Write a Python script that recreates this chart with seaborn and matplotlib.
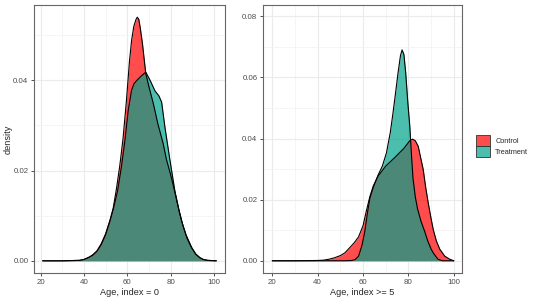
import numpy as np
import pandas as pd
import matplotlib
matplotlib.use('Agg')
import matplotlib.pyplot as plt
import seaborn as sns
from matplotlib.patches import Patch
from matplotlib.ticker import MultipleLocator
from matplotlib.colors import to_rgba

groups = ['Control', 'Treatment']
group_colors = {'Control': '#FF0000', 'Treatment': '#00A38A'}

# ---- density curves: index = 0 ----
age0_control = [21, 30, 38, 40, 42, 44, 46, 48, 50, 52, 53.5, 55, 56.5, 58, 59.5, 61, 62, 63,
                64, 64.6, 65.3, 66, 67, 68.5, 70, 72, 74, 76.5, 78, 80, 82, 83.5, 85, 87,
                89.6, 91.5, 93.4, 95, 97, 101]
dens0_control = [0, 0, 0.0001, 0.0003, 0.0007, 0.0013, 0.0022, 0.0038, 0.006, 0.009, 0.0117,
                 0.016, 0.021, 0.027, 0.035, 0.0443, 0.049, 0.052, 0.0535, 0.054, 0.0535,
                 0.0515, 0.048, 0.0415, 0.0385, 0.0348, 0.0305, 0.026, 0.0225, 0.019, 0.015,
                 0.0118, 0.0088, 0.0058, 0.003, 0.0015, 0.0007, 0.0003, 0.0001, 0]
age0_treat = [21, 30, 38, 40, 42, 44, 46, 48, 50, 52, 53.5, 55.5, 57.3, 58.9, 60.4, 61.9, 63,
              64.2, 66.5, 68.5, 70.5, 72.7, 74.5, 75.8, 77.3, 79.6, 81.9, 83.8, 85.7, 87.5,
              89.6, 91.5, 93.4, 95, 97, 101]
dens0_treat = [0, 0, 0.0001, 0.0003, 0.0007, 0.0012, 0.0021, 0.0036, 0.0058, 0.0088, 0.0114,
               0.0155, 0.0209, 0.0267, 0.0333, 0.0377, 0.0392, 0.0399, 0.041, 0.0418, 0.040,
               0.0377, 0.0366, 0.0352, 0.0297, 0.0224, 0.0155, 0.0112, 0.0077, 0.005,
               0.0029, 0.0015, 0.0007, 0.0003, 0.0001, 0]

# ---- index >= 5 ----
age5_control = [20, 30, 40, 42.5, 45, 47.5, 50, 52, 54, 56, 58, 60, 61.5, 63, 64.5, 66.6, 70,
                74, 78, 80.5, 81.8, 83, 84.3, 85.3, 86.5, 87.6, 88.7, 89.8, 90.9, 92.3,
                93.8, 96, 98.2, 100]
dens5_control = [0, 0, 0.0001, 0.0002, 0.0005, 0.001, 0.0017, 0.0026, 0.0042, 0.0058,
                 0.0078, 0.0115, 0.0165, 0.021, 0.0245, 0.0277, 0.031, 0.0338, 0.0368, 0.0392,
                 0.0398, 0.0393, 0.0375, 0.034, 0.0299, 0.024, 0.019, 0.0145, 0.0103, 0.0065,
                 0.0038, 0.0015, 0.0005, 0]
age5_treat = [20, 40, 52, 55, 56.5, 58, 59.5, 60.7, 62, 63, 64.5, 66.6, 68.5, 70.3, 72,
              73.2, 74.5, 75.4, 76.5, 77.2, 78, 78.8, 79.7, 80.6, 81.3, 82, 83, 84, 85.5,
              87.2, 88.5, 90, 91, 93, 95, 100]
dens5_treat = [0, 0, 0, 0.0001, 0.0004, 0.0015, 0.005, 0.0093, 0.016, 0.0205, 0.024, 0.028,
               0.031, 0.0353, 0.042, 0.0484, 0.056, 0.0614, 0.0672, 0.069, 0.0675, 0.0614,
               0.052, 0.044, 0.035, 0.027, 0.021, 0.017, 0.013, 0.0095, 0.0065, 0.0038,
               0.0025, 0.0005, 0, 0]


def make_df(age_c, dens_c, age_t, dens_t):
    a = pd.DataFrame({'age': age_c, 'density': dens_c, 'group': 'Control'})
    b = pd.DataFrame({'age': age_t, 'density': dens_t, 'group': 'Treatment'})
    return pd.concat([a, b], ignore_index=True)


df0 = make_df(age0_control, dens0_control, age0_treat, dens0_treat)
df5 = make_df(age5_control, dens5_control, age5_treat, dens5_treat)

sns.set_theme(style='white')
plt.rcParams['font.family'] = ['Liberation Sans', 'DejaVu Sans']

fig = plt.figure(figsize=(5.4, 3.0), dpi=100)
W, H = 540, 300
ax1 = fig.add_axes([34 / W, 1 - 273 / H, (225 - 34) / W, (273 - 5) / H])
ax2 = fig.add_axes([263 / W, 1 - 273 / H, (462 - 263) / W, (273 - 5) / H])


def draw_panel(ax, df, xlabel, xlim, ylim, ymajor):
    ax.set_axisbelow(True)
    for g in groups:
        sub = df[df['group'] == g]
        ax.fill_between(sub['age'], 0, sub['density'], color=group_colors[g],
                        alpha=0.7, linewidth=0)
        sns.lineplot(data=sub, x='age', y='density', color='black', lw=0.8,
                     ax=ax, legend=False, sort=False)
    ax.set_xlim(*xlim)
    ax.set_ylim(*ylim)
    ax.xaxis.set_major_locator(MultipleLocator(20))
    ax.xaxis.set_minor_locator(MultipleLocator(10))
    ax.yaxis.set_major_locator(MultipleLocator(ymajor))
    ax.yaxis.set_minor_locator(MultipleLocator(ymajor / 2))
    ax.grid(which='major', color='#EBEBEB', lw=0.8)
    ax.grid(which='minor', color='#F2F2F2', lw=0.5)
    ax.tick_params(which='major', length=2.5, width=0.6, color='#333333',
                   labelsize=5.7, labelcolor='#4D4D4D', pad=1.5, bottom=True, left=True)
    ax.tick_params(which='minor', length=0)
    ax.yaxis.set_major_formatter(plt.FuncFormatter(lambda v, p: f'{v:.2f}'))
    for s in ax.spines.values():
        s.set_color('#666666')
        s.set_linewidth(0.8)
    ax.set_xlabel(xlabel, fontsize=6.6, labelpad=2)
    ax.set_ylabel('')


draw_panel(ax1, df0, 'Age, index = 0', (17, 105), (-0.0027, 0.0567), 0.02)
ax1.set_ylabel('density', fontsize=6.6)
ax1.yaxis.set_label_coords(-0.11, 0.5)
draw_panel(ax2, df5, 'Age, index >= 5', (15.9, 103.6), (-0.004, 0.0837), 0.02)

handles = [Patch(facecolor=to_rgba(group_colors[g], 0.7), edgecolor='#333333', lw=0.6, label=g)
           for g in groups]
fig.legend(handles=handles, loc='center left', bbox_to_anchor=(476 / W, 1 - 146 / H),
           frameon=False, fontsize=5.3, handlelength=1.9, handleheight=1.9,
           handletextpad=0.7, labelspacing=0.0, borderpad=0, borderaxespad=0)

fig.savefig('out.png', dpi=100)
